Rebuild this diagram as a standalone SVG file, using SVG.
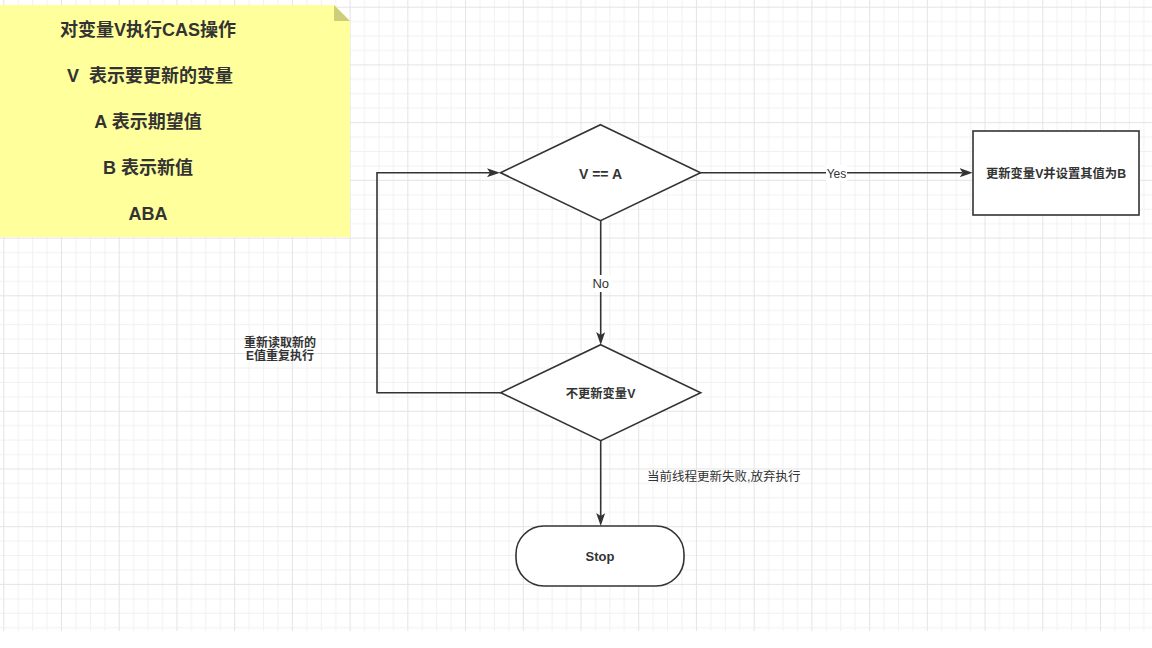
<svg xmlns="http://www.w3.org/2000/svg" width="1152" height="648" viewBox="0 0 1152 648">
  <defs>
    <pattern id="grid" patternUnits="userSpaceOnUse" x="3.3" y="6.7" width="57.72" height="57.72">
      <path d="M14.93 0V57.72M29.36 0V57.72M43.79 0V57.72M0 14.93H57.72M0 29.36H57.72M0 43.79H57.72" stroke="#f1f1f1" stroke-width="1" fill="none"/>
      <path d="M0.5 0V57.72M0 0.5H57.72" stroke="#e4e4e4" stroke-width="1" fill="none"/>
    </pattern>
    <marker id="arrow" markerUnits="userSpaceOnUse" viewBox="0 0 13 9" refX="3" refY="4.5" markerWidth="13" markerHeight="9" orient="auto">
      <path d="M0,0 L13,4.5 L0,9 L3,4.5 Z" fill="#333"/>
    </marker>
    <style>
      .shape { fill: #ffffff; stroke: #333333; stroke-width: 1.6; }
      .edge { fill: none; stroke: #333333; stroke-width: 1.6; marker-end: url(#arrow); }
      .t { font-family: "Liberation Sans", "Noto Sans CJK SC", sans-serif; fill: #333333; text-anchor: middle; dominant-baseline: central; }
      .b { font-weight: bold; }
      .note { font-size: 18px; font-weight: bold; }
    </style>
  </defs>

  <rect x="0" y="0" width="1152" height="648" fill="#ffffff"/>
  <rect x="0" y="0" width="1152" height="631" fill="url(#grid)"/>

  <g id="note">
    <path d="M0,5 H334 L350,21 V237 H0 Z" fill="#ffff9c"/>
    <path d="M334,5 V21 H350 Z" fill="#cdcd7a"/>
    <text class="t note" x="148" y="30">对变量V执行CAS操作</text>
    <text class="t note" x="150" y="76" xml:space="preserve">V  表示要更新的变量</text>
    <text class="t note" x="148" y="122">A 表示期望值</text>
    <text class="t note" x="148" y="168">B 表示新值</text>
    <text class="t note" x="148" y="214">ABA</text>
  </g>

  <g id="connectors">
    <g id="edge-yes">
      <path class="edge" d="M700,172.7 H962.7"/>
      <rect x="826" y="165" width="21" height="16" fill="#ffffff"/>
      <text class="t" x="836.5" y="173.5" font-size="12">Yes</text>
    </g>
    <g id="edge-no">
      <path class="edge" d="M600.7,220.7 V335"/>
      <rect x="590" y="275" width="21" height="17" fill="#ffffff"/>
      <text class="t" x="600.7" y="283.5" font-size="13">No</text>
    </g>
    <g id="edge-loop">
      <path class="edge" d="M500.7,392.7 H377 V172.7 H490"/>
    </g>
    <g id="edge-stop">
      <path class="edge" d="M600.7,440.7 V516"/>
    </g>
  </g>

  <g id="decision-1">
    <path class="shape" d="M600.5,124.7 L700.5,172.7 L600.5,220.7 L500.5,172.7 Z"/>
    <text class="t b" x="600.5" y="173.5" font-size="14">V == A</text>
  </g>

  <g id="update-box">
    <rect class="shape" x="973" y="131" width="166" height="84"/>
    <text class="t b" x="1056" y="173.5" font-size="12.3">更新变量V并设置其值为B</text>
  </g>

  <g id="decision-2">
    <path class="shape" d="M600.7,344.7 L700.7,392.7 L600.7,440.7 L500.7,392.7 Z"/>
    <text class="t b" x="600.5" y="394" font-size="12.3">不更新变量V</text>
  </g>

  <g id="stop">
    <rect class="shape" x="516" y="526" width="168" height="60" rx="28" ry="28"/>
    <text class="t b" x="600" y="556.5" font-size="13">Stop</text>
  </g>

  <g id="label-retry">
    <text class="t b" x="280" y="342.5" font-size="12">重新读取新的</text>
    <text class="t b" x="280" y="355.5" font-size="12">E值重复执行</text>
  </g>

  <g id="label-fail">
    <text class="t" x="647" y="476.7" font-size="12.5" style="text-anchor:start">当前线程更新失败,放弃执行</text>
  </g>
</svg>
